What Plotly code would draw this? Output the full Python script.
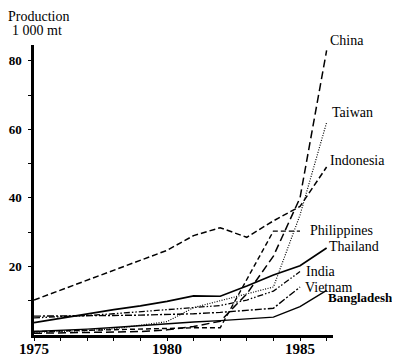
import plotly.graph_objects as go

years = [1975, 1976, 1977, 1978, 1979, 1980, 1981, 1982, 1983, 1984, 1985, 1986]
years_85 = years[:11]

china = [0.5, 0.6, 0.7, 0.8, 1.0, 1.5, 2.5, 4.0, 12.0, 23.0, 40.0, 83.0]
taiwan = [0.8, 1.0, 1.3, 1.8, 2.8, 3.9, 8.0, 10.0, 12.0, 14.0, 35.0, 62.0]
indonesia = [10.2, 13.1, 16.0, 18.9, 21.8, 24.7, 29.0, 31.3, 28.5, 33.3, 37.5, 49.0]
philippines = [1.0, 1.2, 1.4, 1.6, 1.8, 2.0, 2.1, 2.1, 16.0, 30.3, 30.3]
thailand = [3.6, 4.9, 6.2, 7.4, 8.5, 9.8, 11.4, 11.3, 14.3, 17.5, 20.2, 25.4]
india = [5.0, 5.3, 5.7, 6.2, 6.8, 7.4, 8.0, 8.6, 10.2, 12.8, 18.5]
vietnam = [5.5, 5.5, 5.6, 5.7, 5.8, 5.9, 6.2, 6.6, 7.2, 7.8, 14.0]
bangladesh = [1.0, 1.3, 1.7, 2.2, 2.8, 3.3, 3.8, 4.2, 4.6, 5.2, 8.3, 13.0]

y_tick_vals = [10, 20, 30, 40, 50, 60, 70, 80]
y_tick_text = ["", "20", "", "40", "", "60", "", "80"]
x_tick_vals = years
x_tick_text = ["1975", "", "", "", "", "1980", "", "", "", "", "1985", ""]

series = [
    ("China", years, china, "8px,4px", 1.5, 1, 10, "normal", 14),
    ("Taiwan", years, taiwan, "1px,1.5px", 1.2, 3, 10, "normal", 14),
    ("Indonesia", years, indonesia, "6px,3px", 1.5, 1, 7, "normal", 14),
    ("Philippines", years_85, philippines, "5px,3px", 1.4, 8, 1, "normal", 14),
    ("Thailand", years, thailand, "solid", 1.7, 0, 1, "normal", 14),
    ("India", years_85, india, "6px,2px,1.5px,2px,1.5px,2px", 1.3, 4, 0, "normal", 14),
    ("Vietnam", years_85, vietnam, "7px,2px,2px,2px", 1.4, 3, 0, "normal", 14),
    ("Bangladesh", years, bangladesh, "solid", 1.4, -1, -7, "bold", 13),
]

fig = go.Figure()
annotations = []
for name, xs, ys, dash, w, dx, dy, fw, fs in series:
    fig.add_trace(go.Scatter(x=xs, y=ys, mode="lines", name=name,
                             line=dict(color="black", width=w, dash=dash),
                             showlegend=False, hoverinfo="skip"))
    annotations.append(dict(x=xs[-1], y=ys[-1], xref="x", yref="y", text=name,
                            showarrow=False, xanchor="left", yanchor="middle",
                            xshift=dx, yshift=dy,
                            font=dict(family="Liberation Serif", size=fs, color="black",
                                      weight=fw)))

annotations.append(dict(x=0, y=1, xref="paper", yref="paper", text="Production",
                        showarrow=False, xanchor="left", yanchor="top", borderpad=0,
                        xshift=-27, yshift=37,
                        font=dict(family="Liberation Serif", size=14, color="black")))
annotations.append(dict(x=0, y=1, xref="paper", yref="paper", text="1 000 mt",
                        showarrow=False, xanchor="left", yanchor="middle", borderpad=0,
                        xshift=-23, yshift=15,
                        font=dict(family="Liberation Serif", size=14, color="black")))

# page body has an 8px margin; figure is sized/margined so the plot area
# lands where the reference has it within the 400x357 window
fig.update_layout(
    width=392, height=349,
    margin=dict(l=26, r=67, t=37, b=22),
    paper_bgcolor="white", plot_bgcolor="white",
    annotations=annotations,
    xaxis=dict(range=[1975, 1986.24], tickvals=x_tick_vals, ticktext=x_tick_text,
               ticks="outside", ticklen=3, tickwidth=1.2, tickcolor="black",
               showline=True, linecolor="black", linewidth=2.5, showgrid=False,
               zeroline=False, automargin=False, ticklabelstandoff=-5,
               tickfont=dict(family="Liberation Serif", size=15, color="black", weight="bold")),
    yaxis=dict(range=[0, 84.6], tickvals=y_tick_vals, ticktext=y_tick_text,
               ticks="outside", ticklen=3, tickwidth=1.2, tickcolor="black",
               showline=True, linecolor="black", linewidth=2.5, showgrid=False,
               zeroline=False, automargin=False, ticklabelstandoff=4,
               tickfont=dict(family="Liberation Serif", size=13, color="black", weight="bold")),
)

fig.write_html("out.html")
